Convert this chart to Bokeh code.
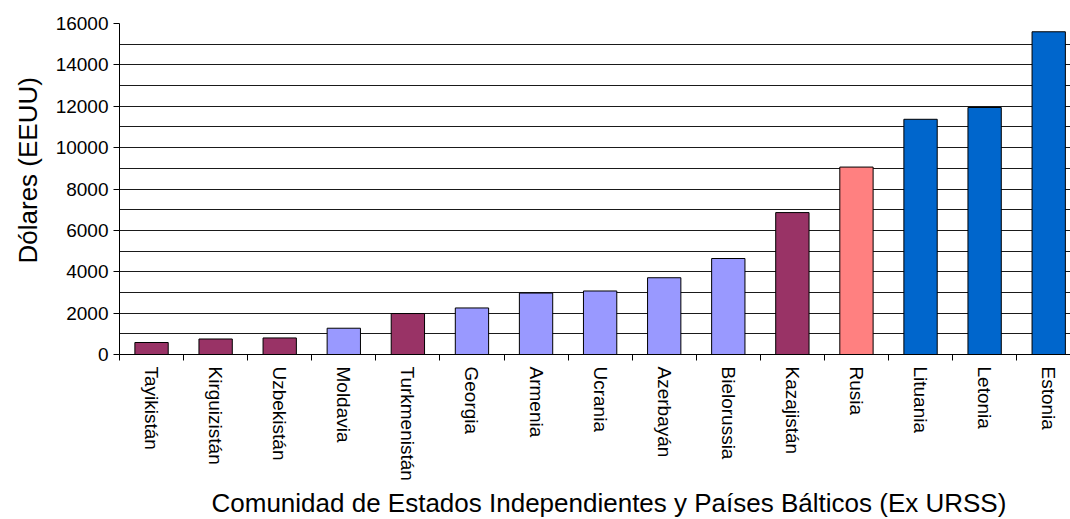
import math
from bokeh.plotting import figure
from bokeh.models import (Range1d, FixedTicker, SingleIntervalTicker,
                          ColumnDataSource, Title)
from bokeh.embed import file_html
from bokeh.resources import INLINE

# ---- data ----
countries = ["Tayikistán", "Kirguizistán", "Uzbekistán", "Moldavia",
             "Turkmenistán", "Georgia", "Armenia", "Ucrania", "Azerbayán",
             "Bielorussia", "Kazajistán", "Rusia", "Lituania", "Letonia",
             "Estonia"]
values = [580, 750, 800, 1270, 1980, 2250, 2970, 3070, 3710, 4640,
          6860, 9060, 11370, 11940, 15600]
groups = ["Asia Central", "Asia Central", "Asia Central", "Europa y Cáucaso",
          "Asia Central", "Europa y Cáucaso", "Europa y Cáucaso",
          "Europa y Cáucaso", "Europa y Cáucaso", "Europa y Cáucaso",
          "Asia Central", "Rusia", "Bálticos", "Bálticos", "Bálticos"]
group_colors = {"Asia Central": "#993366", "Europa y Cáucaso": "#9999FF",
                "Rusia": "#FF8080", "Bálticos": "#0066CC"}

x_title = "Comunidad de Estados Independientes y Países Bálticos (Ex URSS)"
y_title = "Dólares (EEUU)"

FONT = "Liberation Sans"

n = len(countries)
src = ColumnDataSource(dict(
    x=list(range(n)),
    top=values,
    color=[group_colors[g] for g in groups],
    name=countries,
))

p = figure(width=1070, height=519, output_backend="svg",
           toolbar_location=None, tools="",
           x_range=Range1d(-0.5, 14.34), y_range=Range1d(0, 16000))
p.min_border_left = 119
p.min_border_top = 23
p.min_border_right = 0
p.min_border_bottom = 165
p.outline_line_color = None
p.background_fill_color = "white"
p.border_fill_color = "white"

p.vbar(x="x", top="top", width=0.52, bottom=0, source=src,
       fill_color="color", line_color="#000000", line_width=1)

# y axis
yt = SingleIntervalTicker(interval=2000, num_minor_ticks=2)
p.yaxis.ticker = yt
p.ygrid.ticker = yt
p.ygrid.grid_line_color = "#1a1a1a"
p.ygrid.grid_line_width = 1
p.ygrid.minor_grid_line_color = "#1a1a1a"
p.ygrid.minor_grid_line_width = 1
p.xgrid.grid_line_color = None
p.yaxis.major_tick_out = 6
p.yaxis.major_tick_in = 0
p.yaxis.minor_tick_out = 0
p.yaxis.minor_tick_in = 0
p.yaxis.axis_line_color = "black"
p.yaxis.major_tick_line_color = "black"
p.yaxis.major_label_text_font = FONT
p.yaxis.major_label_text_font_size = "19px"
p.yaxis.major_label_text_color = "black"
p.yaxis.major_label_standoff = 5

ytitle = Title(text=y_title, align="left", offset=91, standoff=20,
               text_font=FONT, text_font_size="26px",
               text_font_style="normal", text_color="black")
p.add_layout(ytitle, "left")

# x axis
p.xaxis.ticker = FixedTicker(ticks=list(range(n)),
                             minor_ticks=[i - 0.5 for i in range(n + 1)])
p.xaxis.major_label_overrides = {i: c for i, c in enumerate(countries)}
p.xaxis.major_label_orientation = -math.pi / 2
p.xaxis.major_tick_out = 0
p.xaxis.major_tick_in = 0
p.xaxis.minor_tick_out = 6
p.xaxis.minor_tick_in = 0
p.xaxis.minor_tick_line_color = "black"
p.xaxis.axis_line_color = "black"
p.xaxis.major_label_text_font = FONT
p.xaxis.major_label_text_font_size = "19px"
p.xaxis.major_label_text_color = "black"
p.xaxis.major_label_standoff = 6

xtitle = Title(text=x_title, align="left", offset=92, standoff=4,
               text_font=FONT, text_font_size="26px",
               text_font_style="normal", text_color="black")
p.add_layout(xtitle, "below")

open("out.html", "w").write(file_html(p, INLINE))
